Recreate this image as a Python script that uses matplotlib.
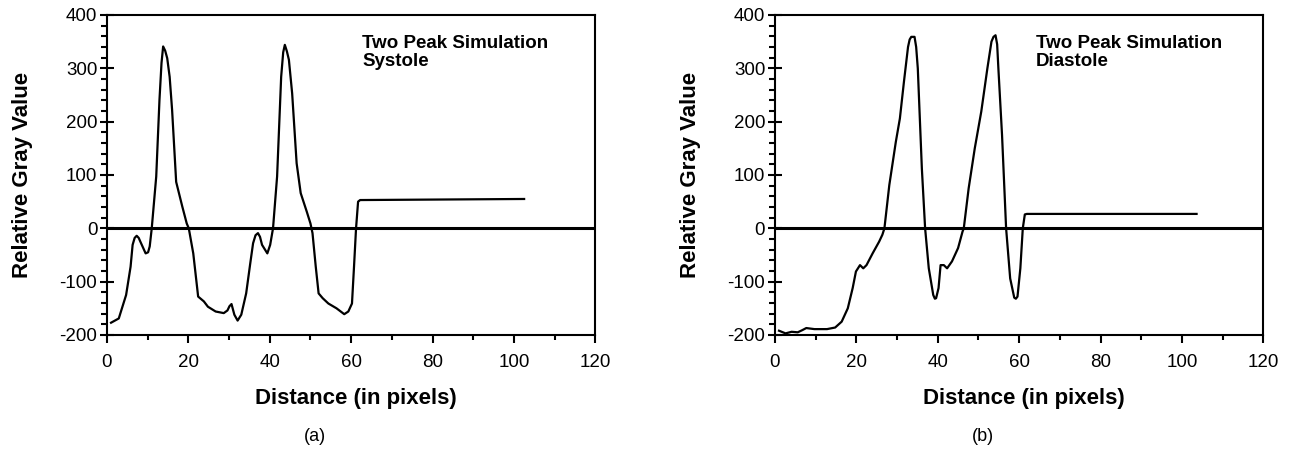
import matplotlib
matplotlib.use('Agg')
import matplotlib.pyplot as plt
from matplotlib.ticker import MultipleLocator

plt.rcParams['font.family'] = ['Liberation Sans', 'DejaVu Sans']
plt.rcParams['axes.unicode_minus'] = False

# (a) systole profile
sys_x = [1.0, 2.9, 4.7, 5.8, 6.3, 6.8, 7.3, 7.8, 8.2, 9.5, 10.1, 10.5, 11.0,
         12.1, 12.9, 13.4, 13.8, 14.3, 14.8, 15.4, 16.0, 17.0, 18.5, 19.6,
         20.1, 21.2, 22.4, 23.8, 24.8, 26.7, 28.7, 29.6, 30.1, 30.6, 31.3,
         32.1, 33.0, 34.2, 35.2, 35.9, 36.5, 37.1, 37.6, 38.1, 39.4, 40.1,
         40.8, 41.8, 42.8, 43.3, 43.7, 44.2, 44.7, 45.5, 46.6, 47.6, 49.1,
         50.0, 50.5, 51.3, 52.0, 53.0, 54.4, 56.4, 58.3, 59.3, 60.2, 60.7,
         61.2, 61.7, 62.2, 102.5]
sys_y = [-177, -169, -125, -72, -31, -18, -14, -18, -25, -47, -45, -34, 0,
         97, 241, 310, 341, 333, 319, 284, 222, 87, 41, 9,
         0, -47, -128, -137, -147, -156, -159, -154, -146, -142, -162,
         -173, -162, -122, -66, -28, -13, -9, -16, -31, -47, -31,
         0, 97, 284, 330, 344, 332, 316, 253, 122, 66, 31,
         9, -9, -72, -122, -131, -141, -150, -161, -156, -141, -72,
         0, 50, 53, 55]

# (b) diastole profile
dia_x = [1.0, 2.6, 4.1, 5.6, 6.7, 7.7, 9.7, 12.8, 14.8, 16.4, 17.9, 19.1,
         19.9, 20.9, 21.7, 22.5, 24.0, 25.6, 26.4, 26.9, 28.1, 29.7, 30.7,
         31.7, 32.7, 33.1, 33.5, 34.3, 34.7, 35.1, 36.1, 36.9, 37.8, 38.9,
         39.3, 39.6, 40.2, 40.7, 41.5, 42.3, 43.5, 45.0, 46.1, 46.4, 47.6,
         49.1, 50.7, 52.2, 53.2, 53.7, 54.2, 54.6, 54.9, 55.8, 56.8, 57.8,
         58.8, 59.2, 59.6, 60.3, 60.9, 61.4, 61.9, 103.6]
dia_y = [-192, -197, -194, -195, -191, -187, -189, -189, -186, -175, -150, -112,
         -81, -69, -75, -69, -47, -25, -12, 0, 81, 162, 206,
         275, 340, 354, 359, 359, 340, 300, 112, 0, -75, -125,
         -132, -131, -112, -69, -69, -75, -62, -37, -6, 0, 75,
         150, 219, 300, 350, 359, 362, 345, 300, 175, 0, -94,
         -130, -132, -128, -75, 0, 26, 27, 27]

panels = [
    (sys_x, sys_y, 'Two Peak Simulation\nSystole', '(a)', 0.0828, 62.7),
    (dia_x, dia_y, 'Two Peak Simulation\nDiastole', '(b)', 0.5998, 64.1),
]

fig = plt.figure(figsize=(12.92, 4.5), dpi=100)

for xs, ys, note, cap, left, note_x in panels:
    ax = fig.add_axes([left, 0.2556, 0.378, 0.7111])
    ax.plot(xs, ys, color='black', lw=1.6)
    ax.axhline(0, color='black', lw=2.2)
    ax.set_xlim(0, 120)
    ax.set_ylim(-200, 400)
    ax.xaxis.set_major_locator(MultipleLocator(20))
    ax.xaxis.set_minor_locator(MultipleLocator(10))
    ax.yaxis.set_major_locator(MultipleLocator(100))
    ax.yaxis.set_minor_locator(MultipleLocator(20))
    ax.tick_params(axis='both', which='both', width=1.5, labelsize=13.5)
    ax.tick_params(axis='y', which='major', direction='inout', length=10, pad=2)
    ax.tick_params(axis='y', which='minor', direction='out', length=4.5)
    ax.tick_params(axis='x', which='major', direction='out', length=6, pad=8)
    ax.tick_params(axis='x', which='minor', direction='out', length=3.5)
    for sp in ax.spines.values():
        sp.set_linewidth(1.5)
    ax.set_xlabel('Distance (in pixels)', fontsize=16, fontweight='bold', va='center')
    ax.xaxis.set_label_coords(0.51, -0.197)
    ax.set_ylabel('Relative Gray Value', fontsize=16, fontweight='bold', va='center')
    ax.yaxis.set_label_coords(-0.172, 0.5)
    ax.text(note_x, 363, note, fontsize=13.5, fontweight='bold', va='top',
            ha='left', linespacing=1.12)
    fig.text(left + (0.378 / 2) - 0.028, 0.029, cap, fontsize=13,
             ha='center', va='center')

fig.savefig('out.png', dpi=100)
